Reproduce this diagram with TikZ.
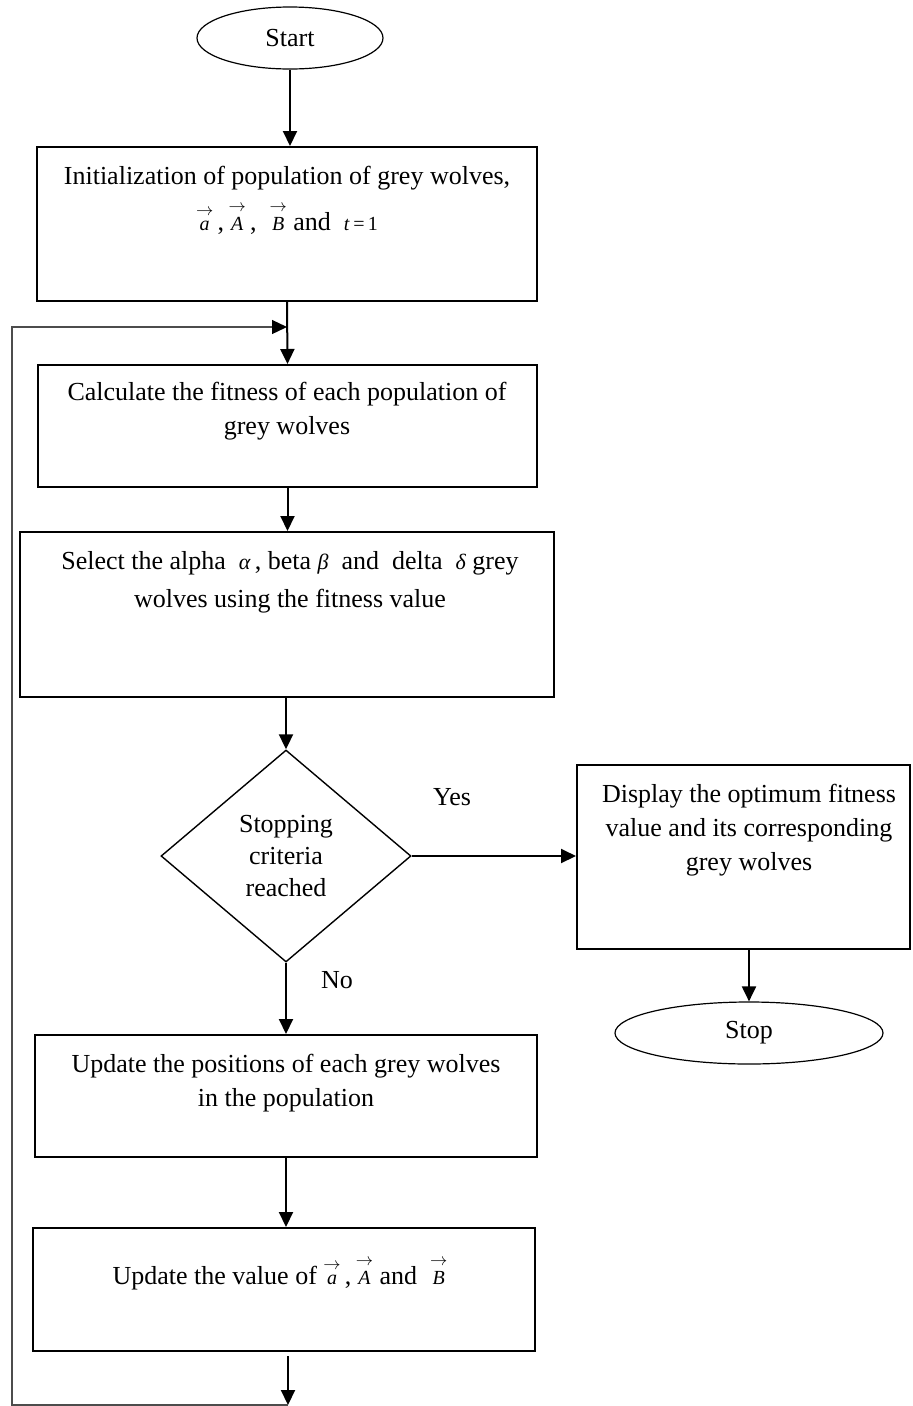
\documentclass[tikz,border=0pt]{standalone}
\usepackage{amsmath}
\usepackage{fontspec}
\setmainfont{Liberation Serif}
\usetikzlibrary{shapes.geometric,arrows.meta}
\newcommand{\vecsym}[1]{$\overset{\rightarrow}{\text{\fontsize{20}{24}\selectfont\itshape #1}}$}
\newcommand{\grk}[1]{{\fontsize{22}{24}\selectfont\itshape #1}}
\begin{document}
\begin{tikzpicture}[x=1pt,y=-1pt,
  every node/.style={font=\fontsize{26}{34}\selectfont},
  procbox/.style={draw, line width=2pt, inner sep=0pt},
  term/.style={draw, ellipse, line width=1.2pt, inner sep=0pt},
  decision/.style={draw, diamond, line width=1.4pt, inner sep=0pt, align=center, font=\fontsize{26}{32}\selectfont},
  txt/.style={inner sep=0pt, align=center, anchor=base},
  lbl/.style={inner sep=0pt},
  arr/.style={line width=2pt, -{Triangle[length=15pt,width=14pt]}},
  loopline/.style={line width=1.3pt, draw=black!70, -{Triangle[length=15pt,width=14pt,color=black]}}
]
\useasboundingbox (0,0) rectangle (913,1406);

% shapes
\node[term, minimum width=186pt, minimum height=62pt] (start) at (290,38) {Start};
\node[procbox, minimum width=500pt, minimum height=154pt] (init) at (287,224) {};
\node[procbox, minimum width=499pt, minimum height=122pt] (calc) at (287.5,426) {};
\node[procbox, minimum width=534pt, minimum height=165pt] (select) at (287,614.5) {};
\node[decision, minimum width=250pt, minimum height=212pt] (dec) at (286,856) {Stopping\\criteria\\reached};
\node[procbox, minimum width=333pt, minimum height=184pt] (disp) at (743.5,857) {};
\node[term, minimum width=268pt, minimum height=62pt] (stop) at (749,1033) {Stop};
\node[procbox, minimum width=502pt, minimum height=122pt] (uppos) at (286,1096) {};
\node[procbox, minimum width=502pt, minimum height=123pt] (upv) at (284,1289.5) {};

% texts (anchor base = baseline of the last line)
\node[txt] (initT) at (287,230) {Initialization of population of grey wolves,\\[12pt]
  \vecsym{a}\,,\,\vecsym{A}\,,~~\vecsym{B} and~ {\fontsize{20}{24}\selectfont\textit{t}\,=\,1}};
\node[txt] (calcT) at (287,434) {Calculate the fitness of each population of\\grey wolves};
\node[txt] (selectT) at (290,607) {Select the alpha~~\grk{α}\,, beta~\grk{β}~~and~~delta~~\grk{δ} grey\\[4pt]wolves using the fitness value};
\node[txt] (dispT) at (749,870) {Display the optimum fitness\\value and its corresponding\\grey wolves};
\node[txt] (upposT) at (286,1106) {Update the positions of each grey wolves\\in the population};
\node[txt] (upvT) at (280,1284) {Update the value of~\vecsym{a}\,,\,\vecsym{A} and~~\vecsym{B}};
\node[lbl] (yes) at (452,797) {Yes};
\node[lbl] (no) at (337,980) {No};

% connectors
\coordinate (fin) at (288,1405);
\coordinate (lp) at (287,327);
\draw[arr] (start.south) -- (start.south |- init.north);
\draw[arr] (init.south) -- (calc.north);
\draw[arr] (calc.south) -- (calc.south |- select.north);
\draw[arr] (select.south -| dec.north) -- (dec.north);
\draw[arr] (dec.east) -- (dec.east -| disp.west);
\draw[arr] (stop.north |- disp.south) -- (stop.north);
\draw[arr] (dec.south) -- (dec.south |- uppos.north);
\draw[arr] (uppos.south) -- (uppos.south |- upv.north);
\draw[arr] ([yshift=-4pt]fin |- upv.south) -- (fin);
\draw[loopline] (fin) -- (12,1405) -- (12,327) -- (lp);
\end{tikzpicture}
\end{document}
